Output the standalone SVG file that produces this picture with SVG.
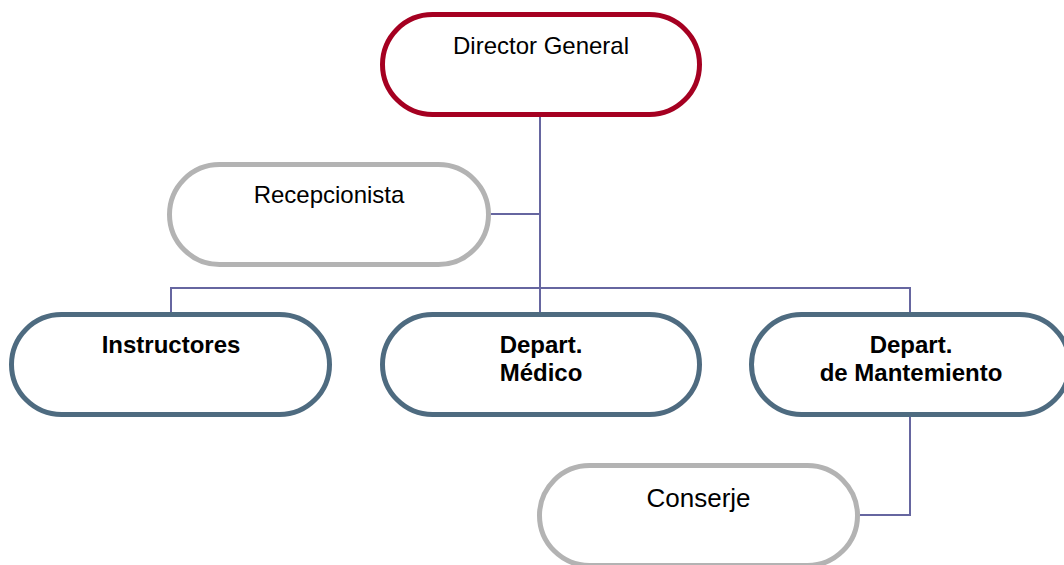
<svg xmlns="http://www.w3.org/2000/svg" width="1064" height="565" viewBox="0 0 1064 565">
<style>
.box{fill:#ffffff;stroke-width:5}
.red{stroke:#a50021}
.grey{stroke:#b3b3b3}
.blue{stroke:#4e6b80}
.t{font-family:"Liberation Sans",Arial,sans-serif;font-size:24px;fill:#000;text-anchor:middle}
.b{font-weight:bold}
.conn{fill:none;stroke:#6666a0;stroke-width:2}
</style>
<rect width="1064" height="565" fill="#ffffff"/>
<g id="connectors">
<path class="conn" d="M540,117 V288"/>
<path class="conn" d="M491,214 H540"/>
<path class="conn" d="M171,312 V288 H910 V312"/>
<path class="conn" d="M540,288 V312"/>
<path class="conn" d="M910,417 V515 H860"/>
</g>
<g id="director">
<rect class="box red" x="382.5" y="14.5" width="317" height="100" rx="50"/>
<text class="t" x="541" y="54">Director General</text>
</g>
<g id="recepcionista">
<rect class="box grey" x="169.5" y="164.5" width="319" height="100" rx="50"/>
<text class="t" x="329" y="203">Recepcionista</text>
</g>
<g id="instructores">
<rect class="box blue" x="11.5" y="314.5" width="318" height="100" rx="50"/>
<text class="t b" x="171" y="353">Instructores</text>
</g>
<g id="medico">
<rect class="box blue" x="382.5" y="314.5" width="317" height="100" rx="50"/>
<text class="t b" x="541" y="353">Depart.</text>
<text class="t b" x="541" y="381">Médico</text>
</g>
<g id="mantenimiento">
<rect class="box blue" x="751.5" y="314.5" width="318" height="100" rx="50"/>
<text class="t b" x="911" y="353">Depart.</text>
<text class="t b" x="911" y="381">de Mantemiento</text>
</g>
<g id="conserje">
<rect class="box grey" x="539.5" y="465.5" width="318" height="100" rx="50"/>
<text class="t" x="698.5" y="507" style="font-size:26px">Conserje</text>
</g>
</svg>
